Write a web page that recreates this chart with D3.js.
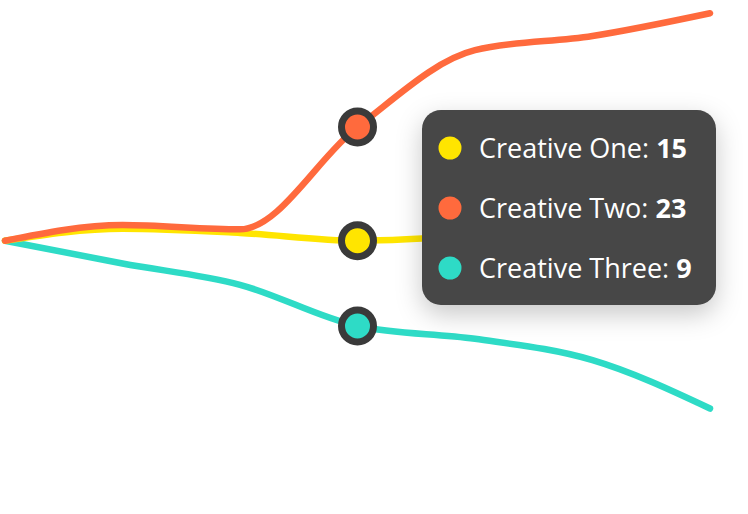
<!DOCTYPE html>
<html>
<head>
<meta charset="utf-8">
<script src="https://cdn.jsdelivr.net/npm/d3@7"></script>
<style>
  html, body { margin: 0; padding: 0; background: #ffffff; }
  svg { display: block; }
</style>
</head>
<body>
<svg id="chart" width="748" height="514"></svg>
<script>
const steps = [0, 1, 2, 3, 4, 5, 6];
const seriesNames = ["Creative One", "Creative Two", "Creative Three"];
const creativeOne = [15, 15.85, 15.55, 15, 15.4, 16.2, 17];
const creativeTwo = [15, 16.1, 15.8, 23, 28.4, 29.4, 31.0];
const creativeThree = [15, 13.4, 11.9, 9, 8.1, 6.6, 3.2];
const seriesColors = ["#FFE500", "#FF6A3D", "#2EDBC6"];
const activeIndex = 3;

const svg = d3.select("#chart");
const x = d3.scaleLinear().domain([0, 6]).range([5, 710]);
const y = d3.scaleLinear().domain([0, 32]).range([454, -1]);

const defs = svg.append("defs");
const f = defs.append("filter").attr("id", "shadow")
  .attr("x", "-30%").attr("y", "-30%").attr("width", "160%").attr("height", "170%");
f.append("feDropShadow").attr("dx", 0).attr("dy", 9).attr("stdDeviation", 13)
  .attr("flood-color", "#000").attr("flood-opacity", 0.22);

const allSeries = [creativeOne, creativeTwo, creativeThree];
const line = d3.line()
  .x((d, i) => x(steps[i]))
  .y(d => y(d))
  .curve(d3.curveMonotoneX);

const drawOrder = [2, 0, 1];
drawOrder.forEach(k => {
  svg.append("path")
    .datum(allSeries[k])
    .attr("d", line)
    .attr("fill", "none")
    .attr("stroke", seriesColors[k])
    .attr("stroke-width", 6.5)
    .attr("stroke-linecap", "round")
    .attr("stroke-linejoin", "round");
});

// markers
allSeries.forEach((s, k) => {
  svg.append("circle")
    .attr("cx", x(steps[activeIndex]))
    .attr("cy", y(s[activeIndex]))
    .attr("r", 16)
    .attr("fill", seriesColors[k])
    .attr("stroke", "#3a3a3a")
    .attr("stroke-width", 7);
});

// tooltip
const tip = svg.append("g").attr("transform", "translate(422,110)");
tip.append("rect")
  .attr("width", 294).attr("height", 195)
  .attr("rx", 19).attr("ry", 19)
  .attr("fill", "#464646")
  .attr("filter", "url(#shadow)");

seriesNames.forEach((name, k) => {
  const cy = 38 + k * 60;
  tip.append("circle")
    .attr("cx", 28).attr("cy", cy).attr("r", 11.5)
    .attr("fill", seriesColors[k]);
  const t = tip.append("text")
    .attr("x", 57).attr("y", cy + 10)
    .attr("fill", "#ffffff")
    .style("font-family", "'Open Sans', sans-serif")
    .style("font-size", "27px");
  t.append("tspan").text(name + ": ");
  t.append("tspan").attr("font-weight", "bold").text(allSeries[k][activeIndex]);
});
</script>
</body>
</html>
